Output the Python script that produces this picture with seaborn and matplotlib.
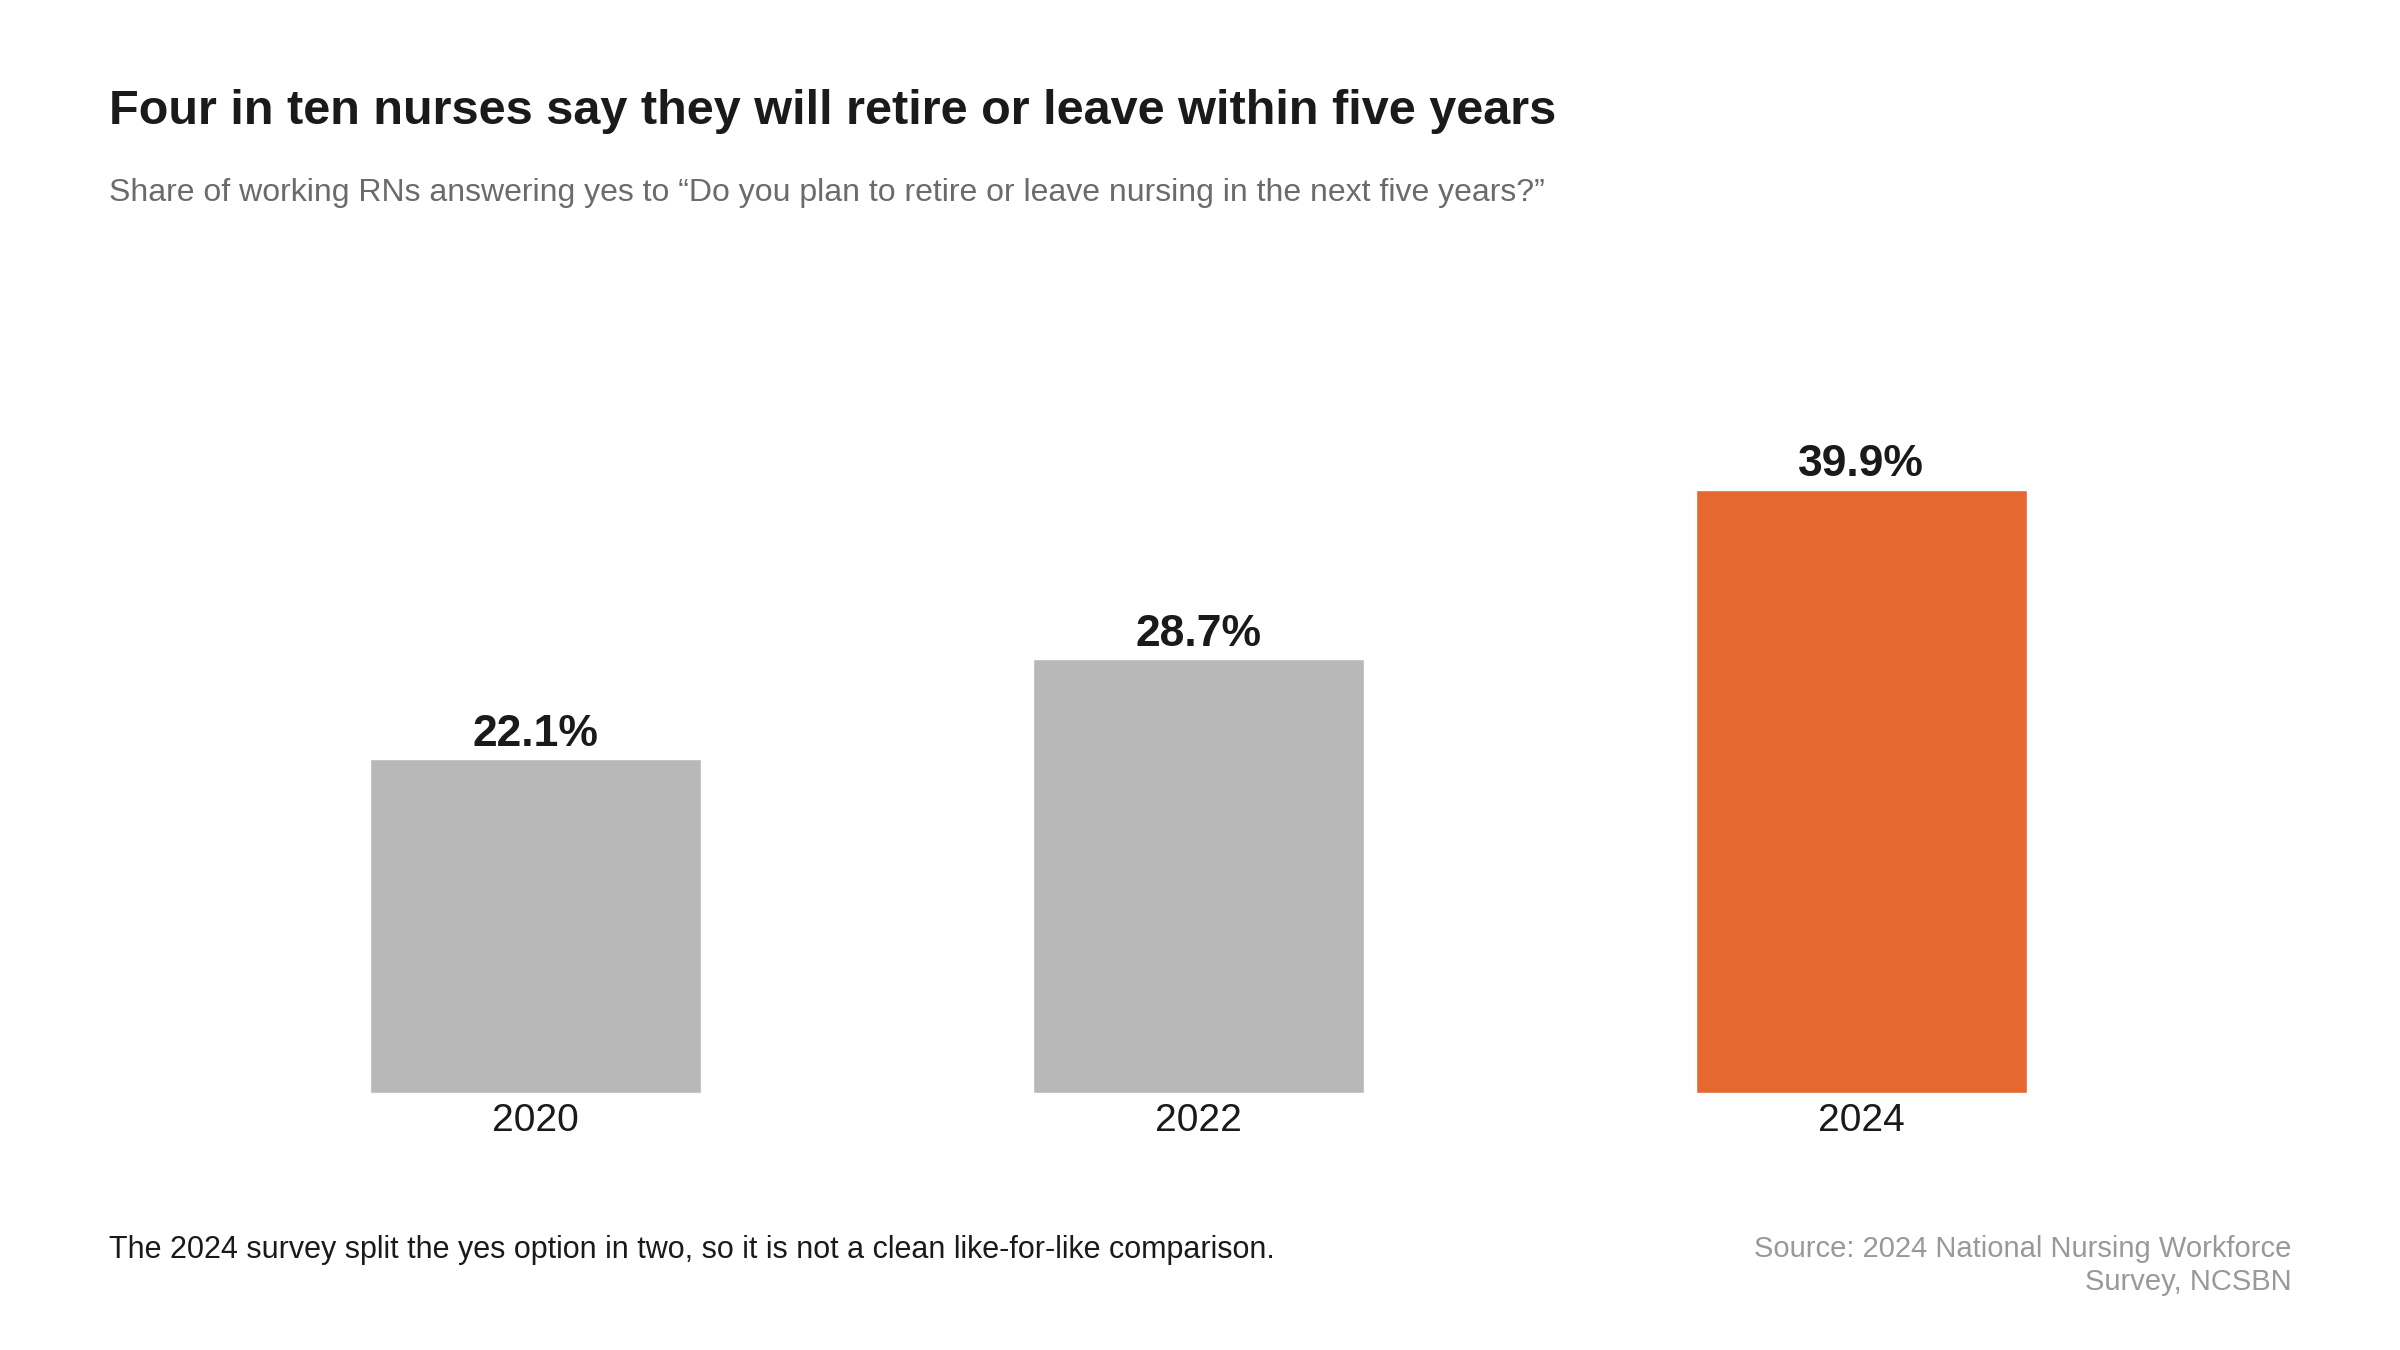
import numpy as np
import pandas as pd
import matplotlib
matplotlib.use("Agg")
import matplotlib.pyplot as plt
import seaborn as sns

# chart data
years = ["2020", "2022", "2024"]
share_pct = [22.1, 28.7, 39.9]
bar_colors = ["#b8b8b8", "#b8b8b8", "#e56830"]

title = "Four in ten nurses say they will retire or leave within five years"
subtitle = ("Share of working RNs answering yes to \u201cDo you plan to retire or "
            "leave nursing in the next five years?\u201d")
note = "The 2024 survey split the yes option in two, so it is not a clean like-for-like comparison."
source = "Source: 2024 National Nursing Workforce\nSurvey, NCSBN"

sns.set_theme(style="white")
plt.rcParams["font.family"] = ["Liberation Sans", "DejaVu Sans"]

df = pd.DataFrame({"year": years, "share": share_pct})

fig = plt.figure(figsize=(24, 13.5), dpi=100)
ax = fig.add_axes([0.0851, 0.1905, 0.8285, 0.56])

sns.barplot(data=df, x="year", y="share", hue="year", palette=bar_colors,
            legend=False, width=0.5, saturation=1, ax=ax)

ax.set_ylim(0, 50)
ax.set_xlim(-0.5, 2.5)

# value labels above bars
for cont in ax.containers:
    ax.bar_label(cont, labels=[f"{v:.1f}%" for v in cont.datavalues],
                 padding=3, fontsize=32, fontweight="bold", color="#1a1a1a")

ax.set_xlabel("")
ax.set_ylabel("")
ax.set_yticks([])
ax.tick_params(axis="x", length=0, pad=7, labelsize=28, labelcolor="#1a1a1a")
sns.despine(ax=ax, left=True, bottom=True)

# headings and footer
fig.text(0.0453, 0.908, title, fontsize=35, fontweight="bold",
         color="#1a1a1a", va="baseline", ha="left")
fig.text(0.0453, 0.851, subtitle, fontsize=23, color="#6b6b6b",
         va="baseline", ha="left")
fig.text(0.0453, 0.0852, note, fontsize=22, color="#1a1a1a",
         va="top", ha="left")
fig.text(0.9547, 0.0852, source, fontsize=21, color="#999999",
         va="top", ha="right", linespacing=1.25)

fig.savefig("out.png", dpi=100, facecolor="white")
